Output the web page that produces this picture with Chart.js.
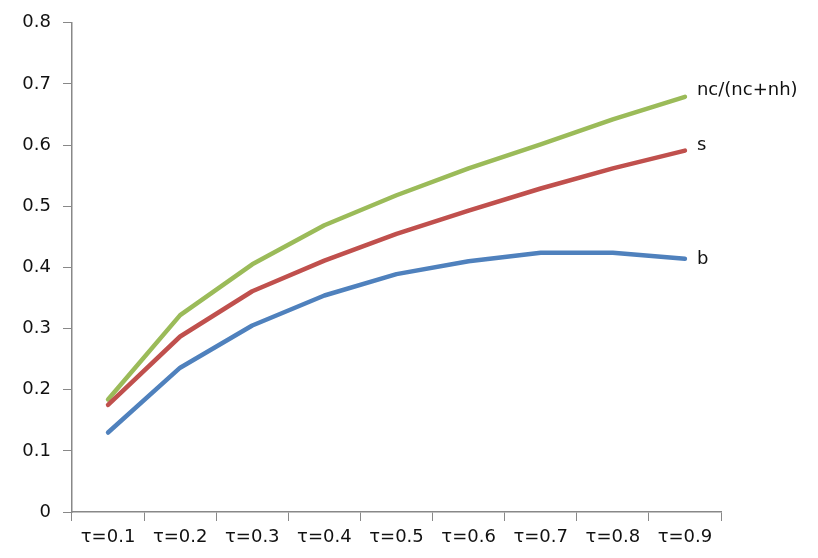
<!DOCTYPE html>
<html>
<head>
<meta charset="UTF-8">
<title>tau chart</title>
<script src="https://cdn.jsdelivr.net/npm/chart.js"></script>
<style>
  body { margin: 0; padding: 0; background: #fff; }
  #wrap { width: 818px; height: 558px; }
</style>
</head>
<body>
<div id="wrap"><canvas id="grafico"></canvas></div>
<script>
const categorias = ['τ=0.1', 'τ=0.2', 'τ=0.3', 'τ=0.4', 'τ=0.5', 'τ=0.6', 'τ=0.7', 'τ=0.8', 'τ=0.9'];
const serieB = [0.13, 0.236, 0.305, 0.354, 0.389, 0.41, 0.424, 0.424, 0.414];
const serieS = [0.175, 0.287, 0.361, 0.411, 0.455, 0.493, 0.529, 0.562, 0.591];
const serieNc = [0.184, 0.322, 0.405, 0.469, 0.518, 0.562, 0.601, 0.642, 0.679];
const nomes = ['b', 's', 'nc/(nc+nh)'];

const fonte = { family: 'DejaVu Sans', size: 18 };
const corEixo = '#888';
const corTexto = '#111';

// escreve o nome da serie logo depois do ultimo ponto
const rotulosFinais = {
  id: 'rotulosFinais',
  afterDatasetsDraw(chart) {
    const ctx = chart.ctx;
    const desvio = [0, -5, -6];
    ctx.save();
    ctx.font = '18px "DejaVu Sans"';
    ctx.fillStyle = corTexto;
    ctx.textBaseline = 'middle';
    chart.data.datasets.forEach((ds, i) => {
      const meta = chart.getDatasetMeta(i);
      const p = meta.data[meta.data.length - 1];
      ctx.fillText(ds.label, p.x + 12, p.y + desvio[i]);
    });
    ctx.restore();
  }
};

function serie(label, data, cor) {
  return {
    label: label,
    data: data,
    borderColor: cor,
    backgroundColor: cor,
    borderWidth: 4.5,
    borderCapStyle: 'round',
    borderJoinStyle: 'round',
    pointRadius: 0,
    tension: 0
  };
}

new Chart(document.getElementById('grafico'), {
  type: 'line',
  data: {
    labels: categorias,
    datasets: [
      serie(nomes[0], serieB, '#4F81BD'),
      serie(nomes[1], serieS, '#C0504D'),
      serie(nomes[2], serieNc, '#9BBB59')
    ]
  },
  options: {
    responsive: true,
    maintainAspectRatio: false,
    animation: false,
    layout: { padding: { top: 12, right: 97, left: 0, bottom: 0 } },
    plugins: { legend: { display: false }, tooltip: { enabled: false } },
    scales: {
      x: {
        offset: true,
        grid: { offset: true, drawOnChartArea: false, tickLength: 9, color: corEixo },
        border: { color: corEixo, width: 1.5 },
        ticks: { font: fonte, color: corTexto, maxRotation: 0, autoSkip: false, padding: 6 },
        afterFit(s) { s.height = 46; }
      },
      y: {
        min: 0,
        max: 0.8,
        ticks: { stepSize: 0.1, font: fonte, color: corTexto, padding: 12 },
        grid: { drawOnChartArea: false, tickLength: 9, color: corEixo },
        border: { color: corEixo, width: 1.5 },
        afterFit(s) { s.width = 72; }
      }
    }
  },
  plugins: [rotulosFinais]
});
</script>
</body>
</html>
